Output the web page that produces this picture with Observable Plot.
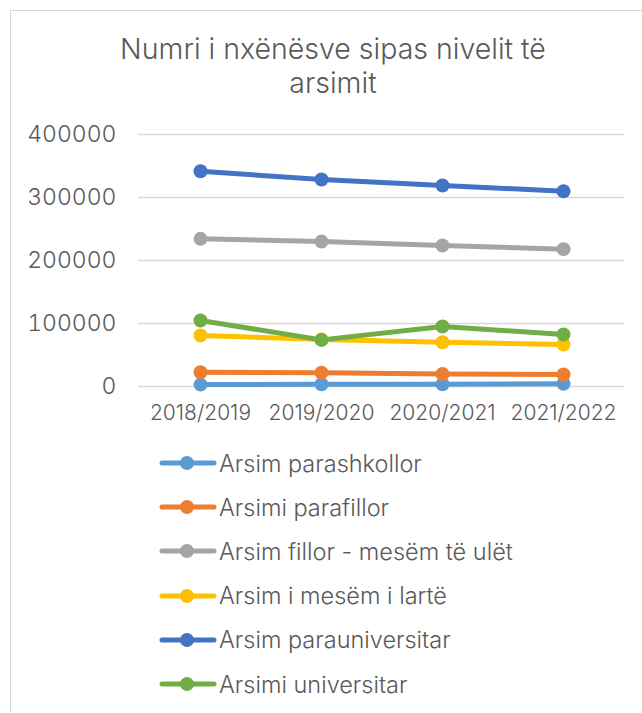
<!DOCTYPE html>
<html>
<head>
<meta charset="utf-8">
<script src="https://cdn.jsdelivr.net/npm/d3@7"></script>
<script src="https://cdn.jsdelivr.net/npm/@observablehq/plot@0.6"></script>
<style>
  html, body { margin: 0; padding: 0; background: #fff; }
  body { width: 642px; height: 713px; position: relative; overflow: hidden; font-family: Inter, "Noto Sans", sans-serif; }
  #frame { position: absolute; left: 10px; top: 10px; width: 646px; height: 740px; border: 1.5px solid #d9d9d9; box-sizing: border-box; }
  #title { position: absolute; left: 10px; width: 646px; top: 32px; text-align: center; font-size: 28.5px; font-weight: 300; line-height: 34px; color: #595959; }
  #chart { position: absolute; left: 0; top: 0; }
  #legend { position: absolute; left: 159px; top: 441px; }
  .item { display: flex; align-items: center; height: 44.2px; font-size: 23.5px; font-weight: 300; color: #595959; }
  .item svg { margin-right: 2px; }
</style>
</head>
<body>
<div id="frame"></div>
<div id="chart"></div>
<div id="title">Numri i nxënësve sipas nivelit të<br>arsimit</div>
<div id="legend"></div>
<script>
const years = ["2018/2019", "2019/2020", "2020/2021", "2021/2022"];
const seriesNames = [
  "Arsim parashkollor",
  "Arsimi parafillor",
  "Arsim fillor - mesëm të ulët",
  "Arsim i mesëm i lartë",
  "Arsim parauniversitar",
  "Arsimi universitar"
];
const colors = ["#5B9BD5", "#ED7D31", "#A5A5A5", "#FFC000", "#4472C4", "#70AD47"];
const parashkollor = [3000, 3500, 3500, 4300];
const parafillor = [22700, 22000, 20000, 19000];
const fillorMesem = [234400, 230000, 223800, 218000];
const mesemLarte = [81000, 74500, 70300, 66700];
const parauniversitar = [341700, 328500, 319000, 310000];
const universitar = [104800, 74000, 95200, 82500];
const yTicks = [0, 100000, 200000, 300000, 400000];

const seriesValues = [parashkollor, parafillor, fillorMesem, mesemLarte, parauniversitar, universitar];
const data = [];
seriesNames.forEach((s, i) => years.forEach((y, j) => data.push({series: s, year: y, value: seriesValues[i][j]})));

const plot = Plot.plot({
  width: 642,
  height: 440,
  marginTop: 134,
  marginBottom: 54,
  marginLeft: 138,
  marginRight: 18,
  style: { fontFamily: "Inter, 'Noto Sans', sans-serif", fontWeight: 300, color: "#595959", background: "transparent" },
  x: { type: "point", domain: years, padding: 0.5, label: null },
  y: { domain: [0, 400000], label: null },
  color: { domain: seriesNames, range: colors },
  marks: [
    Plot.gridY(yTicks, { stroke: "#d9d9d9", strokeOpacity: 1, strokeWidth: 1.5 }),
    Plot.axisY(yTicks, { tickSize: 0, tickPadding: 22, fontSize: 23, fill: "#595959", tickFormat: d => String(d), label: null }),
    Plot.axisX({ tickSize: 0, tickPadding: 19, fontSize: 21, fill: "#595959", label: null }),
    Plot.line(data, { x: "year", y: "value", z: "series", stroke: "series", strokeWidth: 5, strokeLinecap: "round", strokeLinejoin: "round" }),
    Plot.dot(data, { x: "year", y: "value", fill: "series", r: 7, stroke: "none" })
  ]
});
document.getElementById("chart").appendChild(plot);

const legend = document.getElementById("legend");
seriesNames.forEach((s, i) => {
  const div = document.createElement("div");
  div.className = "item";
  div.innerHTML = `<svg width="58" height="16"><line x1="3" y1="8" x2="55" y2="8" stroke="${colors[i]}" stroke-width="5" stroke-linecap="round"/><circle cx="28" cy="8" r="7" fill="${colors[i]}"/></svg><span>${s}</span>`;
  legend.appendChild(div);
});
</script>
</body>
</html>
